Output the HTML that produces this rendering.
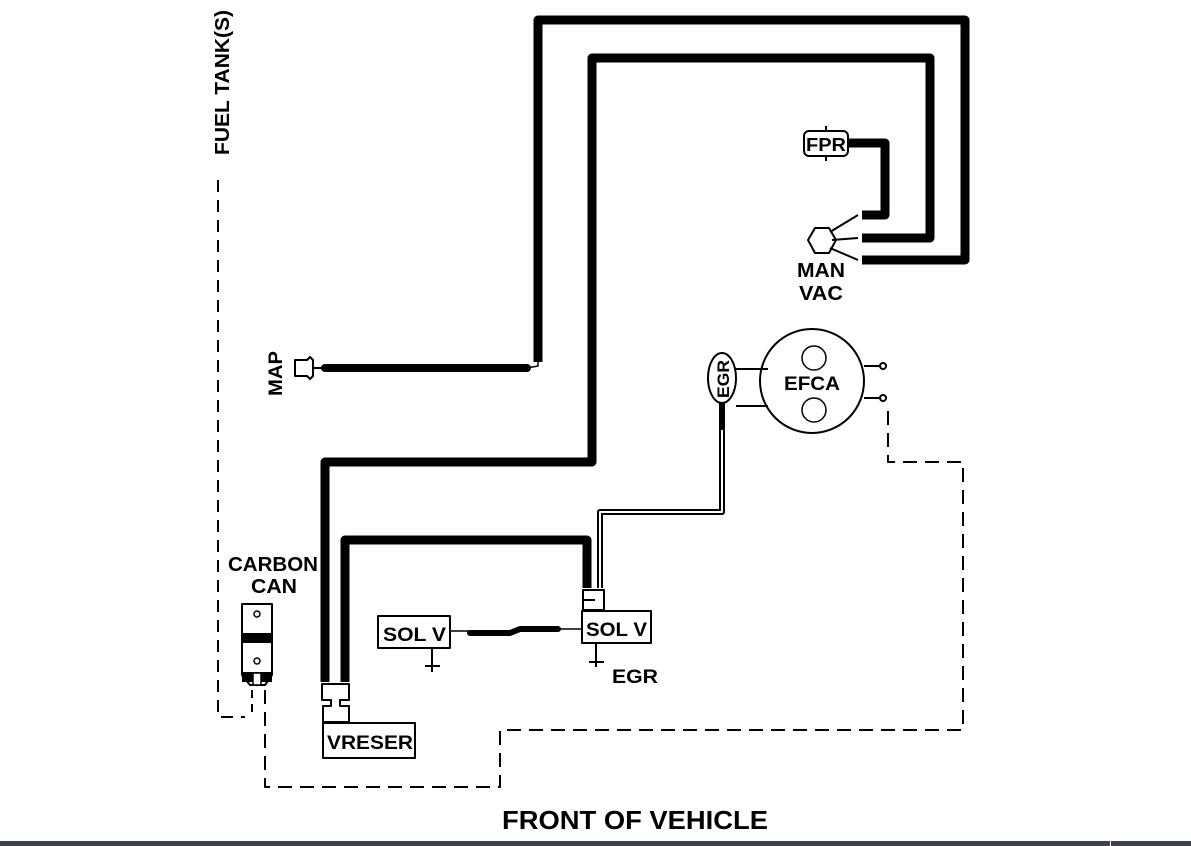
<!DOCTYPE html>
<html><head><meta charset="utf-8"><style>
body{margin:0;width:1191px;height:846px;background:#fff;overflow:hidden}
svg{display:block}
text{font-family:"Liberation Sans",sans-serif;font-weight:bold;fill:#000}
</style></head><body>
<svg width="1191" height="846" viewBox="0 0 1191 846">
<g fill="none" stroke="#000" stroke-linejoin="round">
<path d="M538 362 L538 20 L965 20 L965 260 L862 260" stroke-width="9"/>
<path d="M325 682 L325 462 L592 462 L592 58 L930 58 L930 238 L862 238" stroke-width="9"/>
<path d="M848 143 L885 143 L885 215 L862 215" stroke-width="9"/>
<path d="M345 682 L345 540 L587 540 L587 588" stroke-width="9"/>
<path d="M325 368 L527 368" stroke-width="8" stroke-linecap="round"/>
<path d="M527 368 L538 366 L538 355" stroke-width="1.5"/>
<path d="M722 403 L722 512 L600 512 L600 588" stroke-width="6"/>
<path d="M722 430 L722 512 L600 512 L600 588" stroke="#fff" stroke-width="2"/>
<path d="M450 631 L470 631" stroke-width="1.5"/>
<path d="M470 633 L510 633 L520 629 L558 629" stroke-width="6" stroke-linecap="round"/>
<path d="M558 629 L582 629" stroke-width="1.5"/>
<path d="M830 232 L858 215 M832 240 L858 238 M830 248 L858 260" stroke-width="2"/>
<polygon points="815,228 829,228 836,240 829,253 815,253 808,240" stroke-width="2"/>
<rect x="804" y="131" width="44" height="25" rx="5" stroke-width="2"/>
<path d="M826 126 L826 131 M826 156 L826 161" stroke-width="2"/>
<path d="M295 360 L307 360 L310 357 L313 360 L313 376 L310 379 L307 376 L295 376 Z M313 368 L325 368" stroke-width="2"/>
<ellipse cx="722" cy="378" rx="14" ry="25" stroke-width="2"/>
<path d="M736 369 L768 369 M736 406 L768 406" stroke-width="2"/>
<circle cx="812" cy="381" r="52" stroke-width="2"/>
<circle cx="814" cy="358" r="12" stroke-width="1.5"/>
<circle cx="814" cy="410" r="12" stroke-width="1.5"/>
<path d="M864 366 L880 366 M864 398 L880 398" stroke-width="2"/>
<circle cx="883" cy="366" r="3" stroke-width="2"/>
<circle cx="883" cy="398" r="3" stroke-width="2"/>
<path d="M218 180 L218 717 L245 717" stroke-width="2" stroke-dasharray="12 8"/>
<path d="M252 690 L252 717" stroke-width="2" stroke-dasharray="8 6"/>
<path d="M265 690 L265 787 L500 787 L500 730 L963 730 L963 462 L888 462 L888 404" stroke-width="2" stroke-dasharray="14 8"/>
<path d="M242 604 L272 604 L272 675 L265 685 L250 685 L242 675 Z" stroke-width="2"/>
<rect x="242" y="633" width="30" height="10" fill="#000" stroke="none"/>
<circle cx="257" cy="614" r="3" stroke-width="1.5"/>
<circle cx="257" cy="661" r="3" stroke-width="1.5"/>
<rect x="242" y="672" width="30" height="10" fill="#000" stroke="none"/>
<rect x="253" y="673" width="8" height="12" fill="#fff" stroke-width="1.5"/>
<rect x="323" y="723" width="92" height="35" stroke-width="2"/>
<path d="M322 684 L349 684 L349 700 L340 700 L340 706 L349 706 L349 722 L323 722 L323 706 L331 706 L331 700 L322 700 Z" stroke-width="2"/>
<rect x="378" y="616" width="72" height="32" stroke-width="2"/>
<path d="M432 648 L432 672 M425 666 L440 666" stroke-width="2"/>
<rect x="582" y="611" width="69" height="32" stroke-width="2"/>
<path d="M583 590 L604 590 L604 610 L583 610 Z M583 600 L595 600" stroke-width="2"/>
<path d="M596 643 L596 667 M589 662 L604 662" stroke-width="2"/>
</g>
<text x="0" y="0" font-size="20" transform="translate(229,155) rotate(-90)" textLength="145" lengthAdjust="spacingAndGlyphs">FUEL TANK(S)</text>
<text x="0" y="0" font-size="19" transform="translate(282,396) rotate(-90)" textLength="45" lengthAdjust="spacingAndGlyphs">MAP</text>
<text x="228" y="571" font-size="20" textLength="90" lengthAdjust="spacingAndGlyphs">CARBON</text>
<text x="251" y="593" font-size="20" textLength="46" lengthAdjust="spacingAndGlyphs">CAN</text>
<text x="797" y="277" font-size="20" textLength="48" lengthAdjust="spacingAndGlyphs">MAN</text>
<text x="799" y="300" font-size="20" textLength="44" lengthAdjust="spacingAndGlyphs">VAC</text>
<text x="806" y="151" font-size="18" textLength="40" lengthAdjust="spacingAndGlyphs">FPR</text>
<text x="0" y="0" font-size="17" transform="translate(729,398) rotate(-90)" textLength="38" lengthAdjust="spacingAndGlyphs">EGR</text>
<text x="784" y="390" font-size="19" textLength="56" lengthAdjust="spacingAndGlyphs">EFCA</text>
<text x="327" y="749" font-size="19" textLength="86" lengthAdjust="spacingAndGlyphs">VRESER</text>
<text x="383" y="641" font-size="19" textLength="63" lengthAdjust="spacingAndGlyphs">SOL V</text>
<text x="586" y="636" font-size="19" textLength="61" lengthAdjust="spacingAndGlyphs">SOL V</text>
<text x="612" y="683" font-size="19" textLength="46" lengthAdjust="spacingAndGlyphs">EGR</text>
<text x="502" y="829" font-size="26" textLength="266" lengthAdjust="spacingAndGlyphs">FRONT OF VEHICLE</text>
<rect x="0" y="841" width="1191" height="5" fill="#3d4450"/>
<rect x="1110" y="841" width="1" height="5" fill="#fff"/>
</svg>
</body></html>
